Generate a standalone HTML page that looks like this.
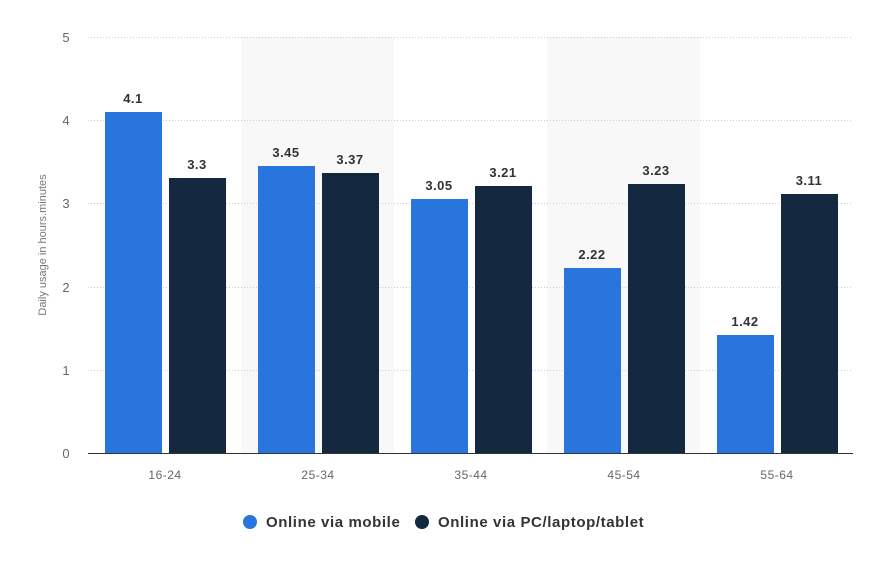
<!DOCTYPE html>
<html><head><meta charset="utf-8"><style>body{margin:0;background:#fff}svg{display:block}text{font-family:"Liberation Sans",sans-serif}</style></head><body>
<svg width="883" height="587" viewBox="0 0 883 587">
<rect x="241" y="37" width="153" height="416" fill="#f8f8f8"/>
<rect x="547" y="37" width="153" height="416" fill="#f8f8f8"/>
<g stroke="#ccc" stroke-dasharray="1,2" stroke-width="1">
<line x1="88" x2="853" y1="37.5" y2="37.5"/><line x1="88" x2="853" y1="120.5" y2="120.5"/><line x1="88" x2="853" y1="203.5" y2="203.5"/><line x1="88" x2="853" y1="287.5" y2="287.5"/><line x1="88" x2="853" y1="370.5" y2="370.5"/>
</g>
<g fill="#666" font-size="13" text-anchor="middle">
<text x="66" y="42">5</text><text x="66" y="125">4</text><text x="66" y="208">3</text><text x="66" y="292">2</text><text x="66" y="375">1</text><text x="66" y="458">0</text>
</g>
<text transform="translate(46,245) rotate(-90)" fill="#777" font-size="11" text-anchor="middle">Daily usage in hours.minutes</text>
<g fill="#2876dd">
<rect x="105" y="112" width="57" height="341"/><rect x="258" y="166" width="57" height="287"/><rect x="411" y="199" width="57" height="254"/><rect x="564" y="268" width="57" height="185"/><rect x="717" y="335" width="57" height="118"/>
</g>
<g fill="#14283f">
<rect x="169" y="178" width="57" height="275"/><rect x="322" y="173" width="57" height="280"/><rect x="475" y="186" width="57" height="267"/><rect x="628" y="184" width="57" height="269"/><rect x="781" y="194" width="57" height="259"/>
</g>
<line x1="88" x2="853" y1="453.5" y2="453.5" stroke="#333" stroke-width="1"/>
<g fill="#333" font-size="13" font-weight="bold" text-anchor="middle" letter-spacing="0.5">
<text x="133" y="103">4.1</text><text x="197" y="169">3.3</text>
<text x="286" y="157">3.45</text><text x="350" y="164">3.37</text>
<text x="439" y="190">3.05</text><text x="503" y="177">3.21</text>
<text x="592" y="259">2.22</text><text x="656" y="175">3.23</text>
<text x="745" y="326">1.42</text><text x="809" y="185">3.11</text>
</g>
<g fill="#666" font-size="12" text-anchor="middle" letter-spacing="0.5">
<text x="165" y="479">16-24</text><text x="318" y="479">25-34</text><text x="471" y="479">35-44</text><text x="624" y="479">45-54</text><text x="777" y="479">55-64</text>
</g>
<circle cx="250" cy="522" r="7" fill="#2876dd"/>
<text x="266" y="527" fill="#333" font-size="15" font-weight="bold" letter-spacing="0.6">Online via mobile</text>
<circle cx="422" cy="522" r="7" fill="#14283f"/>
<text x="438" y="527" fill="#333" font-size="15" font-weight="bold" letter-spacing="0.6">Online via PC/laptop/tablet</text>
</svg>
</body></html>
